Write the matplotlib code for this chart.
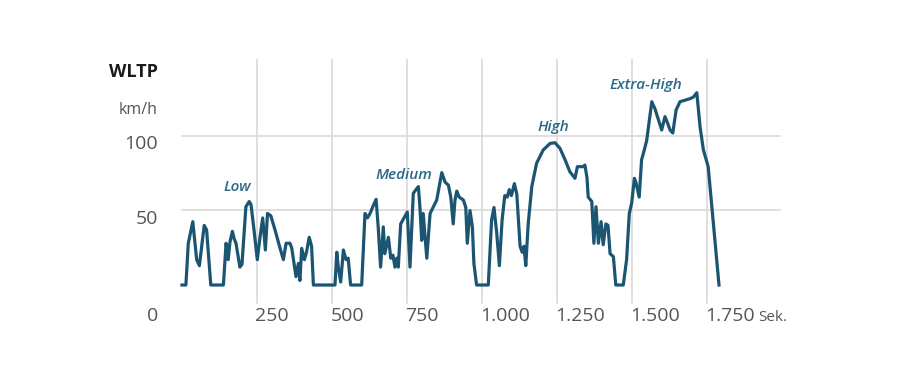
"""WLTP driving cycle speed profile, stylised infographic look."""
import matplotlib

matplotlib.use("Agg")
import matplotlib.pyplot as plt

# speed trace: time [s] and speed [km/h]
time_s = [0, 13, 21, 36, 49, 58, 74, 82, 96, 138, 147, 154, 160, 168, 174, 180, 193,
          200, 213, 224, 230, 240, 251, 260, 269, 278, 285, 296, 310, 327, 338, 347,
          360, 366, 380, 388, 393, 399, 408, 415, 424, 432, 438, 510, 516, 521, 529,
          538, 547, 554, 562, 599, 610, 618, 627, 636, 647, 654, 662, 671, 676, 688,
          696, 703, 710, 716, 721, 729, 740, 751, 760, 771, 780, 788, 793, 799, 804,
          816, 827, 838, 849, 866, 877, 888, 896, 904, 910, 916, 924, 938, 946, 951,
          960, 968, 973, 982, 1021, 1032, 1040, 1049, 1058, 1067, 1076, 1084, 1091,
          1098, 1108, 1116, 1127, 1134, 1140, 1146, 1154, 1166, 1182, 1204, 1227,
          1243, 1260, 1277, 1293, 1310, 1318, 1337, 1343, 1350, 1354, 1366, 1373,
          1380, 1388, 1397, 1404, 1413, 1420, 1427, 1438, 1446, 1471, 1482, 1491,
          1499, 1508, 1513, 1524, 1532, 1541, 1549, 1566, 1577, 1599, 1610, 1618,
          1627, 1636, 1647, 1660, 1677, 1693, 1704, 1716, 1727, 1738, 1754, 1790]
speed_kmh = [0, 0, 28, 42.5, 17, 13, 40, 37, 0, 0, 28, 17, 29, 36, 31, 28, 12,
             14, 52.5, 56, 54, 37, 17, 32, 45, 23.5, 48, 46.5, 37, 24.6, 17, 28,
             28, 24.6, 5.6, 14.5, 3, 24.6, 17, 22, 32, 26, 0, 0, 22, 12, 2,
             23.5, 17, 18, 0, 0, 48, 45, 48, 52.5, 57.5, 39, 12, 39, 21, 32,
             18, 20, 12, 18, 12, 41, 45, 49, 12, 61.5, 64, 66, 52.5, 30, 48,
             18, 48, 52.5, 57, 75.4, 69, 67, 59, 41, 57, 63, 59, 57, 52, 28,
             50, 39, 14.5, 0, 0, 43.6, 52, 35, 13, 43.6, 60, 59, 64,
             60, 68, 61, 26, 22, 26, 13, 41, 66, 81.7, 90.6, 95,
             95.5, 91.7, 84, 76, 71.6, 79.4, 79.4, 80.5, 72, 59, 56, 28,
             52.5, 28, 42.5, 27, 41, 40, 21, 19, 0, 0, 17, 48,
             55, 71.6, 69, 59, 84, 90.6, 97, 123, 118, 104, 113, 109,
             104, 102, 117.4, 123, 124, 125, 126, 129, 106, 90.6, 79.4, 0]

phase_names = ["Low", "Medium", "High", "Extra-High"]
phase_label_t = [183, 740, 1237, 1547]
phase_label_v = [66, 74, 106, 134]

x_ticks = [250, 500, 750, 1000, 1250, 1500, 1750]
x_tick_labels = ["250", "500", "750", "1.000", "1.250", "1.500", "1.750"]
y_ticks = [50, 100]

LINE = "#1b5572"
PHASE = "#2a6a88"
GRID = "#d9d9d9"
TEXT = "#555555"
FONT = "Open Sans"

fig = plt.figure(figsize=(9, 3.81), dpi=100)
ax = fig.add_axes([100 / 900, 41 / 381, 720 / 900, 300 / 381])
ax.set_xlim(-273.3, 2126.7)
ax.set_ylim(-36.9, 164.4)
ax.axis("off")

for v in y_ticks:
    ax.plot([0, 1993], [v, v], color=GRID, lw=1.2, zorder=1)
for t in x_ticks:
    ax.plot([t, t], [-12, 151], color=GRID, lw=1.2, zorder=1)

ax.plot(time_s, speed_kmh, color=LINE, lw=2.3, solid_joinstyle="round", zorder=3)

for name, t, v in zip(phase_names, phase_label_t, phase_label_v):
    ax.text(t, v, name, ha="center", va="center", color=PHASE, fontsize=11,
            fontstyle="italic", fontweight="semibold", family=FONT)

for t, lab in zip(x_ticks, x_tick_labels):
    ax.text(t - 5, -20.8, lab, ha="left", va="center", color=TEXT, fontsize=14, family=FONT)
ax.text(1920, -21.5, "Sek.", ha="left", va="center", color=TEXT, fontsize=11, family=FONT)

for v, lab in zip([0] + y_ticks, ["0", "50", "100"]):
    ypos = -20.8 if v == 0 else v - 5.5
    ax.text(-80, ypos, lab, ha="right", va="center", color=TEXT, fontsize=14, family=FONT)
ax.text(-80, 117.5, "km/h", ha="right", va="center", color=TEXT, fontsize=11.5, family=FONT)
ax.text(-80, 143, "WLTP", ha="right", va="center", color="#1a1a1a", fontsize=13,
        fontweight="bold", family=FONT)

fig.savefig("out.png", dpi=100, facecolor="white")
plt.close(fig)
